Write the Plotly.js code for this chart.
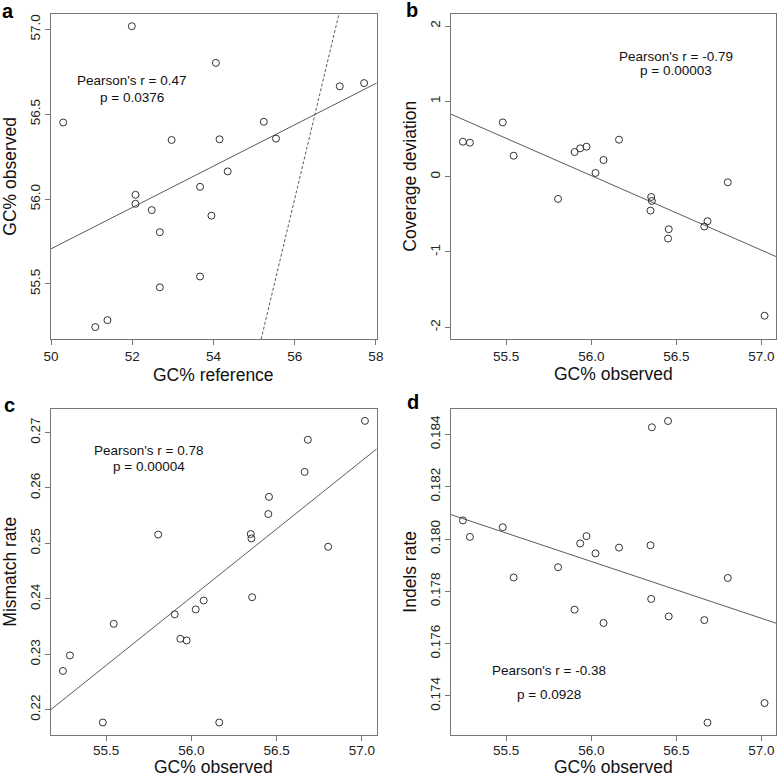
<!DOCTYPE html>
<html>
<head>
<meta charset="utf-8">
<script src="https://cdn.plot.ly/plotly-3.0.1.min.js"></script>
<style>html,body{margin:0;padding:0;background:#fff;}#chart{width:778px;height:778px;}</style>
</head>
<body>
<div id="chart"></div>
<script>
// ---- data (one entry per sample, same order in every array) ----
const gcReference = [51.09, 51.39, 52.68, 53.67, 52.68, 53.95, 52.48, 52.08, 52.08, 53.67, 54.35, 52.97, 54.15, 55.54, 50.30, 55.24, 57.11, 57.71, 54.06, 51.99];
const gcObserved = [55.246, 55.287, 55.480, 55.544, 55.805, 55.902, 55.935, 55.972, 56.025, 56.072, 56.163, 56.348, 56.352, 56.356, 56.451, 56.455, 56.664, 56.683, 56.802, 57.018];
const coverageDeviation = [0.464, 0.451, 0.720, 0.278, -0.296, 0.327, 0.376, 0.398, 0.049, 0.221, 0.491, -0.451, -0.270, -0.323, -0.822, -0.698, -0.663, -0.592, -0.075, -1.847];
const mismatchRate = [0.2270, 0.2298, 0.2177, 0.2355, 0.2516, 0.2372, 0.2328, 0.2325, 0.2381, 0.2397, 0.2177, 0.2517, 0.2509, 0.2403, 0.2553, 0.2584, 0.2629, 0.2687, 0.2494, 0.2721];
const indelsRate = [0.18071, 0.18008, 0.18045, 0.17853, 0.17892, 0.17730, 0.17983, 0.18011, 0.17945, 0.17679, 0.17967, 0.17976, 0.17771, 0.18427, 0.18451, 0.17704, 0.17690, 0.17298, 0.17851, 0.17373];

// ---- text ----
const panelLetters = ['a', 'b', 'c', 'd'];
const xTitles = ['GC% reference', 'GC% observed', 'GC% observed', 'GC% observed'];
const yTitles = ['GC% observed', 'Coverage deviation', 'Mismatch rate', 'Indels rate'];
const statR = ["Pearson's r = 0.47", "Pearson's r = -0.79", "Pearson's r = 0.78", "Pearson's r = -0.38"];
const statP = ['p = 0.0376', 'p = 0.00003', 'p = 0.00004', 'p = 0.0928'];

// ---- ticks ----
const xTicksA = [50, 52, 54, 56, 58];
const xTickTextA = ['50', '52', '54', '56', '58'];
const xTicksObs = [55.5, 56.0, 56.5, 57.0];
const xTickTextObs = ['55.5', '56.0', '56.5', '57.0'];
const yTicksA = [55.5, 56.0, 56.5, 57.0];
const yTickTextA = ['55.5', '56.0', '56.5', '57.0'];
const yTicksB = [-2, -1, 0, 1, 2];
const yTickTextB = ['-2', '-1', '0', '1', '2'];
const yTicksC = [0.22, 0.23, 0.24, 0.25, 0.26, 0.27];
const yTickTextC = ['0.22', '0.23', '0.24', '0.25', '0.26', '0.27'];
const yTicksD = [0.174, 0.176, 0.178, 0.180, 0.182, 0.184];
const yTickTextD = ['0.174', '0.176', '0.178', '0.180', '0.182', '0.184'];

// ---- axis ranges ----
const xRangeA = [50.0, 58.02];
const xRangeObs = [55.176, 57.087];
const yRangeA = [55.174, 57.09];
const yRangeB = [-2.16, 2.16];
const yRangeC = [0.2155, 0.2743];
const yRangeD = [0.17252, 0.18498];

function olsLine(xs, ys, xr) {
  const n = xs.length;
  const mx = xs.reduce((s, v) => s + v, 0) / n;
  const my = ys.reduce((s, v) => s + v, 0) / n;
  let sxy = 0, sxx = 0;
  for (let i = 0; i < n; i++) { sxy += (xs[i] - mx) * (ys[i] - my); sxx += (xs[i] - mx) ** 2; }
  const b = sxy / sxx, a = my - b * mx;
  return { x: [xr[0], xr[1]], y: [a + b * xr[0], a + b * xr[1]] };
}

const ptColor = '#333';
const lnColor = '#5a5a5a';
const boxColor = '#777';
const FONT = 'Liberation Sans, Arial, Helvetica, sans-serif';

const panels = [
  { x: gcReference, y: gcObserved, xr: xRangeA, yr: yRangeA },
  { x: gcObserved, y: coverageDeviation, xr: xRangeObs, yr: yRangeB },
  { x: gcObserved, y: mismatchRate, xr: xRangeObs, yr: yRangeC },
  { x: gcObserved, y: indelsRate, xr: xRangeObs, yr: yRangeD }
];

const traces = [];
panels.forEach((p, i) => {
  const sfx = i === 0 ? '' : String(i + 1);
  const fit = olsLine(p.x, p.y, p.xr);
  traces.push({ type: 'scatter', mode: 'lines', x: fit.x, y: fit.y, xaxis: 'x' + sfx, yaxis: 'y' + sfx,
    line: { color: lnColor, width: 1 }, hoverinfo: 'skip', showlegend: false });
  if (i === 0) {
    traces.push({ type: 'scatter', mode: 'lines', x: [p.yr[0], p.yr[1]], y: [p.yr[0], p.yr[1]], xaxis: 'x', yaxis: 'y',
      line: { color: lnColor, width: 1, dash: '3px,2px' }, hoverinfo: 'skip', showlegend: false });
  }
  traces.push({ type: 'scatter', mode: 'markers', x: p.x, y: p.y, xaxis: 'x' + sfx, yaxis: 'y' + sfx,
    marker: { symbol: 'circle-open', size: 7, color: ptColor, line: { width: 1, color: ptColor } },
    cliponaxis: false, showlegend: false });
});

// pixel geometry of the four plot boxes
const W = 778, H = 778;
const boxes = [
  { l: 51, r: 376.7, t: 14, b: 339.3 },
  { l: 451, r: 776.3, t: 14, b: 339.3 },
  { l: 51, r: 376.7, t: 408.7, b: 734.7 },
  { l: 451, r: 776.3, t: 408.7, b: 734.7 }
];
const letterPos = [[7.5, 11], [412, 10], [9, 404.5], [412.5, 402]];
const xTitleY = [375, 374, 767, 767];
const px = v => v / W;
const py = v => 1 - v / H;

function axisBase() {
  return { showline: true, mirror: true, linecolor: boxColor, linewidth: 1, ticks: 'outside', ticklen: 5,
    tickcolor: boxColor, tickwidth: 1, showgrid: false, zeroline: false, fixedrange: true,
    tickfont: { family: FONT, size: 13.5, color: '#222' } };
}

const layout = {
  width: W, height: H, margin: { l: 0, r: 0, t: 0, b: 0 }, paper_bgcolor: '#fff', plot_bgcolor: '#fff',
  showlegend: false, annotations: []
};
const xTickSets = [[xTicksA, xTickTextA], [xTicksObs, xTickTextObs], [xTicksObs, xTickTextObs], [xTicksObs, xTickTextObs]];
const yTickSets = [[yTicksA, yTickTextA], [yTicksB, yTickTextB], [yTicksC, yTickTextC], [yTicksD, yTickTextD]];
boxes.forEach((bx, i) => {
  const sfx = i === 0 ? '' : String(i + 1);
  layout['xaxis' + sfx] = Object.assign(axisBase(), { domain: [px(bx.l), px(bx.r)], range: panels[i].xr,
    anchor: 'y' + sfx, tickmode: 'array', tickvals: xTickSets[i][0], ticktext: xTickSets[i][1],
    ticklabelstandoff: i >= 2 ? -2 : -1 });
  layout['yaxis' + sfx] = Object.assign(axisBase(), { domain: [py(bx.b), py(bx.t)], range: panels[i].yr,
    anchor: 'x' + sfx, tickmode: 'array', tickvals: yTickSets[i][0], ticktext: yTickSets[i][1], tickangle: -90 });
  const cx = (bx.l + bx.r) / 2;
  // axis titles
  layout.annotations.push({ xref: 'paper', yref: 'paper', x: px(cx), y: py(xTitleY[i]), text: xTitles[i],
    showarrow: false, xanchor: 'center', yanchor: 'middle', font: { family: FONT, size: 17.5, color: '#111' } });
  layout.annotations.push({ xref: 'paper', yref: 'paper', x: px(bx.l - 41), y: py((bx.t + bx.b) / 2), text: yTitles[i],
    showarrow: false, textangle: -90, xanchor: 'center', yanchor: 'middle', font: { family: FONT, size: 17.5, color: '#111' } });
  // panel letter
  layout.annotations.push({ xref: 'paper', yref: 'paper', x: px(letterPos[i][0]), y: py(letterPos[i][1]), text: '<b>' + panelLetters[i] + '</b>',
    showarrow: false, xanchor: 'center', yanchor: 'middle', font: { family: FONT, size: 20, color: '#000' } });
});

// statistics text positions (pixels)
const statPos = [[132, 81, 97.3], [675.7, 56.7, 71], [149, 450, 466], [548.7, 670.7, 694.7]];
statPos.forEach((s, i) => {
  layout.annotations.push({ xref: 'paper', yref: 'paper', x: px(s[0]), y: py(s[1]), text: statR[i], showarrow: false,
    xanchor: 'center', yanchor: 'middle', font: { family: FONT, size: 13.5, color: '#111' } });
  layout.annotations.push({ xref: 'paper', yref: 'paper', x: px(s[0]), y: py(s[2]), text: statP[i], showarrow: false,
    xanchor: 'center', yanchor: 'middle', font: { family: FONT, size: 13.5, color: '#111' } });
});

Plotly.newPlot('chart', traces, layout, { staticPlot: true, displayModeBar: false });
</script>
</body>
</html>
